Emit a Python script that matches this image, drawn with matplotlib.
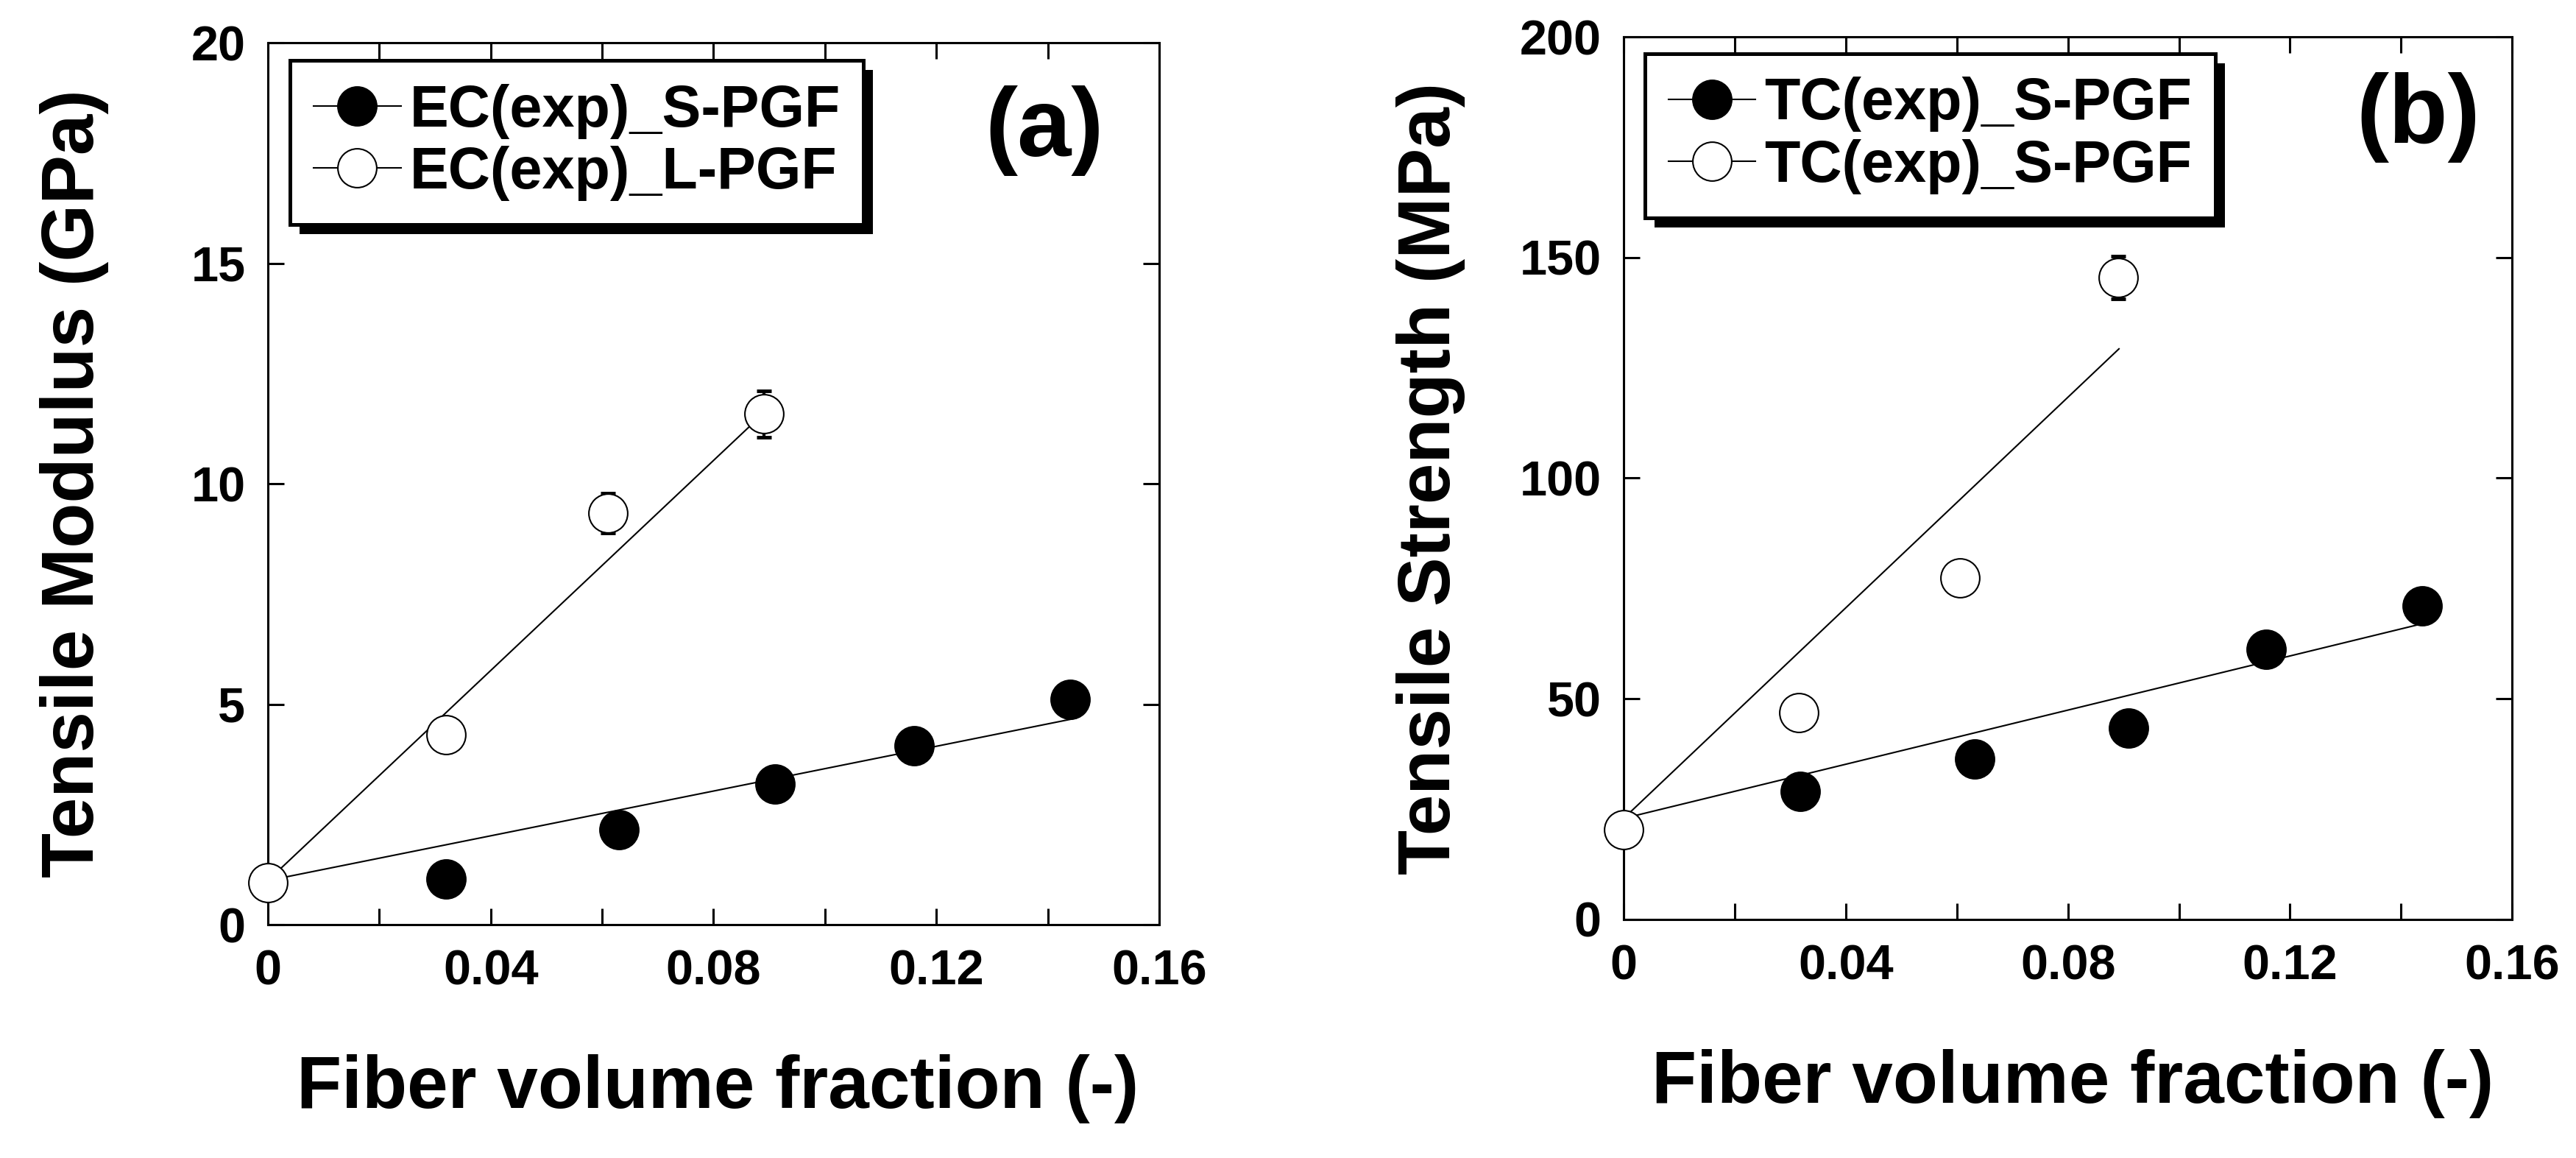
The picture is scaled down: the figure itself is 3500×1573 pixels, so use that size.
import matplotlib
matplotlib.use('Agg')
import matplotlib.pyplot as plt
from matplotlib.lines import Line2D
from matplotlib.patches import Rectangle

# Arial look-alike, everything bold
plt.rcParams['font.family'] = ['Liberation Sans', 'DejaVu Sans']
plt.rcParams['font.weight'] = 'bold'

# ---- data ----
# (a) tensile modulus (GPa)
vf_mod_s = [0.032, 0.063, 0.091, 0.116, 0.144]
modulus_s = [1.03, 2.16, 3.19, 4.05, 5.11]
modulus_s_err = [0.15, 0.15, 0.2, 0.2, 0.2]
vf_mod_l = [0.0, 0.032, 0.061, 0.089]
modulus_l = [0.95, 4.31, 9.34, 11.58]
modulus_l_err = [0.1, 0.2, 0.45, 0.52]
fit_mod_s_x = [0.0, 0.145]
fit_mod_s_y = [1.0, 4.68]
fit_mod_l_x = [0.0, 0.089]
fit_mod_l_y = [1.0, 11.6]

# (b) tensile strength (MPa)
vf_str_s = [0.0318, 0.0632, 0.0909, 0.1157, 0.1438]
strength_s = [29.0, 36.4, 43.4, 61.2, 71.1]
strength_s_err = [1.5, 1.5, 1.5, 2.0, 2.0]
vf_str_l = [0.0, 0.0316, 0.0606, 0.089]
strength_l = [20.4, 46.9, 77.4, 145.5]
strength_l_err = [1.0, 2.0, 2.0, 4.8]
fit_str_s_x = [0.0, 0.1428]
fit_str_s_y = [22.9, 66.7]
fit_str_l_x = [0.0, 0.0892]
fit_str_l_y = [22.9, 129.3]

x_ticks = [0, 0.02, 0.04, 0.06, 0.08, 0.10, 0.12, 0.14, 0.16]
x_tick_labels = ['0', '', '0.04', '', '0.08', '', '0.12', '', '0.16']
mod_ticks = [0, 5, 10, 15, 20]
str_ticks = [0, 50, 100, 150, 200]

legend_a = ['EC(exp)_S-PGF', 'EC(exp)_L-PGF']
legend_b = ['TC(exp)_S-PGF', 'TC(exp)_S-PGF']

MS = 38
MEW = 1.5


def draw_panel(ax, fits, filled, hollow, y_ticks, ylabel, tag, tag_xy, labels, leg_anchor):
    # fitted lines first so the markers sit on top
    for fx, fy in fits:
        ax.plot(fx, fy, color='black', lw=1.5, zorder=1)

    for (x, y, err), face in [(filled, 'black'), (hollow, 'white')]:
        ax.errorbar(x, y, yerr=err, fmt='none', ecolor='black', elinewidth=3,
                    capsize=7, capthick=3.5, zorder=2)
        ax.plot(x, y, 'o', ls='none', ms=MS, mfc=face, mec='black', mew=MEW,
                zorder=3, clip_on=False)

    ax.set_xlim(0, 0.16)
    ax.set_ylim(y_ticks[0], y_ticks[-1])
    ax.set_xticks(x_ticks)
    ax.set_xticklabels(x_tick_labels)
    ax.set_yticks(y_ticks)
    ax.set_yticklabels([str(t) for t in y_ticks])
    ax.tick_params(direction='in', top=True, right=True, length=15.6, width=2.2,
                   labelsize=48)
    ax.tick_params(axis='x', pad=24)
    ax.tick_params(axis='y', pad=22)
    for sp in ax.spines.values():
        sp.set_linewidth(2.2)

    ax.set_xlabel('Fiber volume fraction (-)', fontsize=72, fontweight='bold')
    ax.xaxis.set_label_coords(0.505, -0.147)
    ax.set_ylabel(ylabel, fontsize=72, fontweight='bold')
    ax.yaxis.set_label_coords(-0.178, 0.5)

    ax.text(tag_xy[0], tag_xy[1], tag, transform=ax.transAxes, ha='right',
            va='center', fontsize=95, fontweight='bold')

    handles = [Line2D([], [], color='black', lw=1.5, marker='o', ms=MS,
                      mfc=face, mec='black', mew=MEW) for face in ['black', 'white']]
    leg = ax.legend(handles, labels, loc='upper left', bbox_to_anchor=leg_anchor,
                    fontsize=57, frameon=True, fancybox=False, edgecolor='black',
                    framealpha=1, handlelength=1.5, handletextpad=0.15,
                    borderpad=0.4, labelspacing=0.12, borderaxespad=0)
    leg.get_frame().set_linewidth(3.6)
    return leg


def add_shadow(fig, ax, leg, off_px=13):
    # black drop shadow under the legend box, offset down and right
    fig.canvas.draw()
    bb = leg.get_frame().get_window_extent().transformed(ax.transAxes.inverted())
    ax_w, ax_h = ax.get_window_extent().width, ax.get_window_extent().height
    ax.add_patch(Rectangle((bb.x0 + off_px / ax_w, bb.y0 - off_px / ax_h),
                           bb.width, bb.height, transform=ax.transAxes,
                           facecolor='black', edgecolor='none', zorder=4.9,
                           clip_on=False))


fig = plt.figure(figsize=(35, 15.73), dpi=100)
ax_a = fig.add_axes([0.104, 0.2015, 0.346, 0.7616])
ax_b = fig.add_axes([0.6303, 0.206, 0.3449, 0.7622])

leg_a = draw_panel(ax_a,
                   [(fit_mod_s_x, fit_mod_s_y), (fit_mod_l_x, fit_mod_l_y)],
                   (vf_mod_s, modulus_s, modulus_s_err),
                   (vf_mod_l, modulus_l, modulus_l_err),
                   mod_ticks, 'Tensile Modulus (GPa)', '(a)', (0.938, 0.90),
                   legend_a, (0.025, 0.980))
leg_b = draw_panel(ax_b,
                   [(fit_str_s_x, fit_str_s_y), (fit_str_l_x, fit_str_l_y)],
                   (vf_str_s, strength_s, strength_s_err),
                   (vf_str_l, strength_l, strength_l_err),
                   str_ticks, 'Tensile Strength (MPa)', '(b)', (0.964, 0.909),
                   legend_b, (0.024, 0.981))

add_shadow(fig, ax_a, leg_a)
add_shadow(fig, ax_b, leg_b)

fig.savefig('out.png', dpi=100)
